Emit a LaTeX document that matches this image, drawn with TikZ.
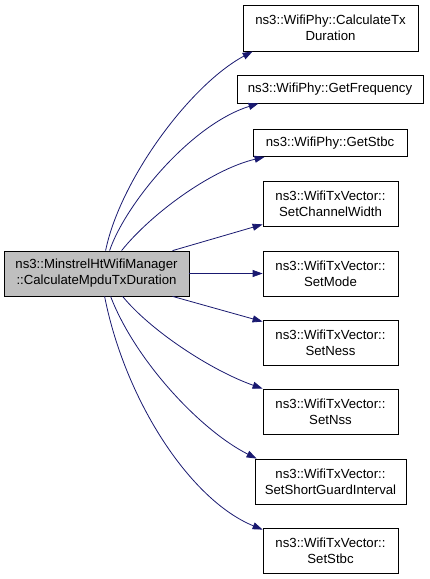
\documentclass[tikz,border=0pt]{standalone}
\usepackage{fontspec}
\setmainfont{Liberation Sans}
\usetikzlibrary{arrows.meta,calc}
\definecolor{edgeblue}{HTML}{191970}
\begin{document}
\begin{tikzpicture}[x=1pt,y=-1pt,
 box/.style={draw=black, line width=0.8pt, fill=white, align=center, inner sep=0pt, minimum width=135pt, minimum height=45pt, font=\fontsize{13.2}{16}\selectfont},
 edge/.style={draw=edgeblue, line width=0.8pt, -{Triangle[length=10pt,width=7pt]}}]
\useasboundingbox (0,0) rectangle (429,579);
\node[box, fill=gray!50, minimum width=185pt] (main) at (96.5,273.5) {ns3::MinstrelHtWifiManager\\::CalculateMpduTxDuration};
\node[box, minimum width=175pt, minimum height=46pt] (b1) at (330.5,28) {ns3::WifiPhy::CalculateTx\\Duration};
\node[box, minimum width=186pt, minimum height=28pt] (b2) at (330,89) {ns3::WifiPhy::GetFrequency};
\node[box, minimum width=154pt, minimum height=27pt] (b3) at (330,143) {ns3::WifiPhy::GetStbc};
\node[box] (b4) at (330.5,203.5) {ns3::WifiTxVector::\\SetChannelWidth};
\node[box] (b5) at (330.5,273.5) {ns3::WifiTxVector::\\SetMode};
\node[box] (b6) at (330.5,342.5) {ns3::WifiTxVector::\\SetNess};
\node[box] (b7) at (330.5,411.5) {ns3::WifiTxVector::\\SetNss};
\node[box, minimum width=151pt] (b8) at (330.5,481.5) {ns3::WifiTxVector::\\SetShortGuardInterval};
\node[box] (b9) at (330.5,550.5) {ns3::WifiTxVector::\\SetStbc};

\draw[edge] ($(main.north west)+(102,0)$) .. controls (120,180) and (190,85) .. ($(b1.south west)+(10,0)$);
\draw[edge] ($(main.north west)+(106,0)$) .. controls (125,205) and (190,125) .. ($(b2.south west)+(22,0)$);
\draw[edge] ($(main.north west)+(118,0)$) .. controls (150,215) and (210,170) .. ($(b3.south west)+(12,0)$);
\draw[edge] ($(main.north west)+(169,0)$) -- ($(b4.south west)+(0,-2)$);
\draw[edge] (main.east) -- (b5.west);
\draw[edge] ($(main.south west)+(169,0)$) -- ($(b6.north west)+(0,2)$);
\draw[edge] ($(main.south west)+(119,0)$) .. controls (150,330) and (210,370) .. (b7.north west);
\draw[edge] ($(main.south west)+(107,0)$) .. controls (135,360) and (200,430) .. ($(b8.north west)+(2,0)$);
\draw[edge] ($(main.south west)+(101,0)$) .. controls (125,400) and (190,500) .. ($(b9.north west)+(0,2)$);
\end{tikzpicture}
\end{document}
